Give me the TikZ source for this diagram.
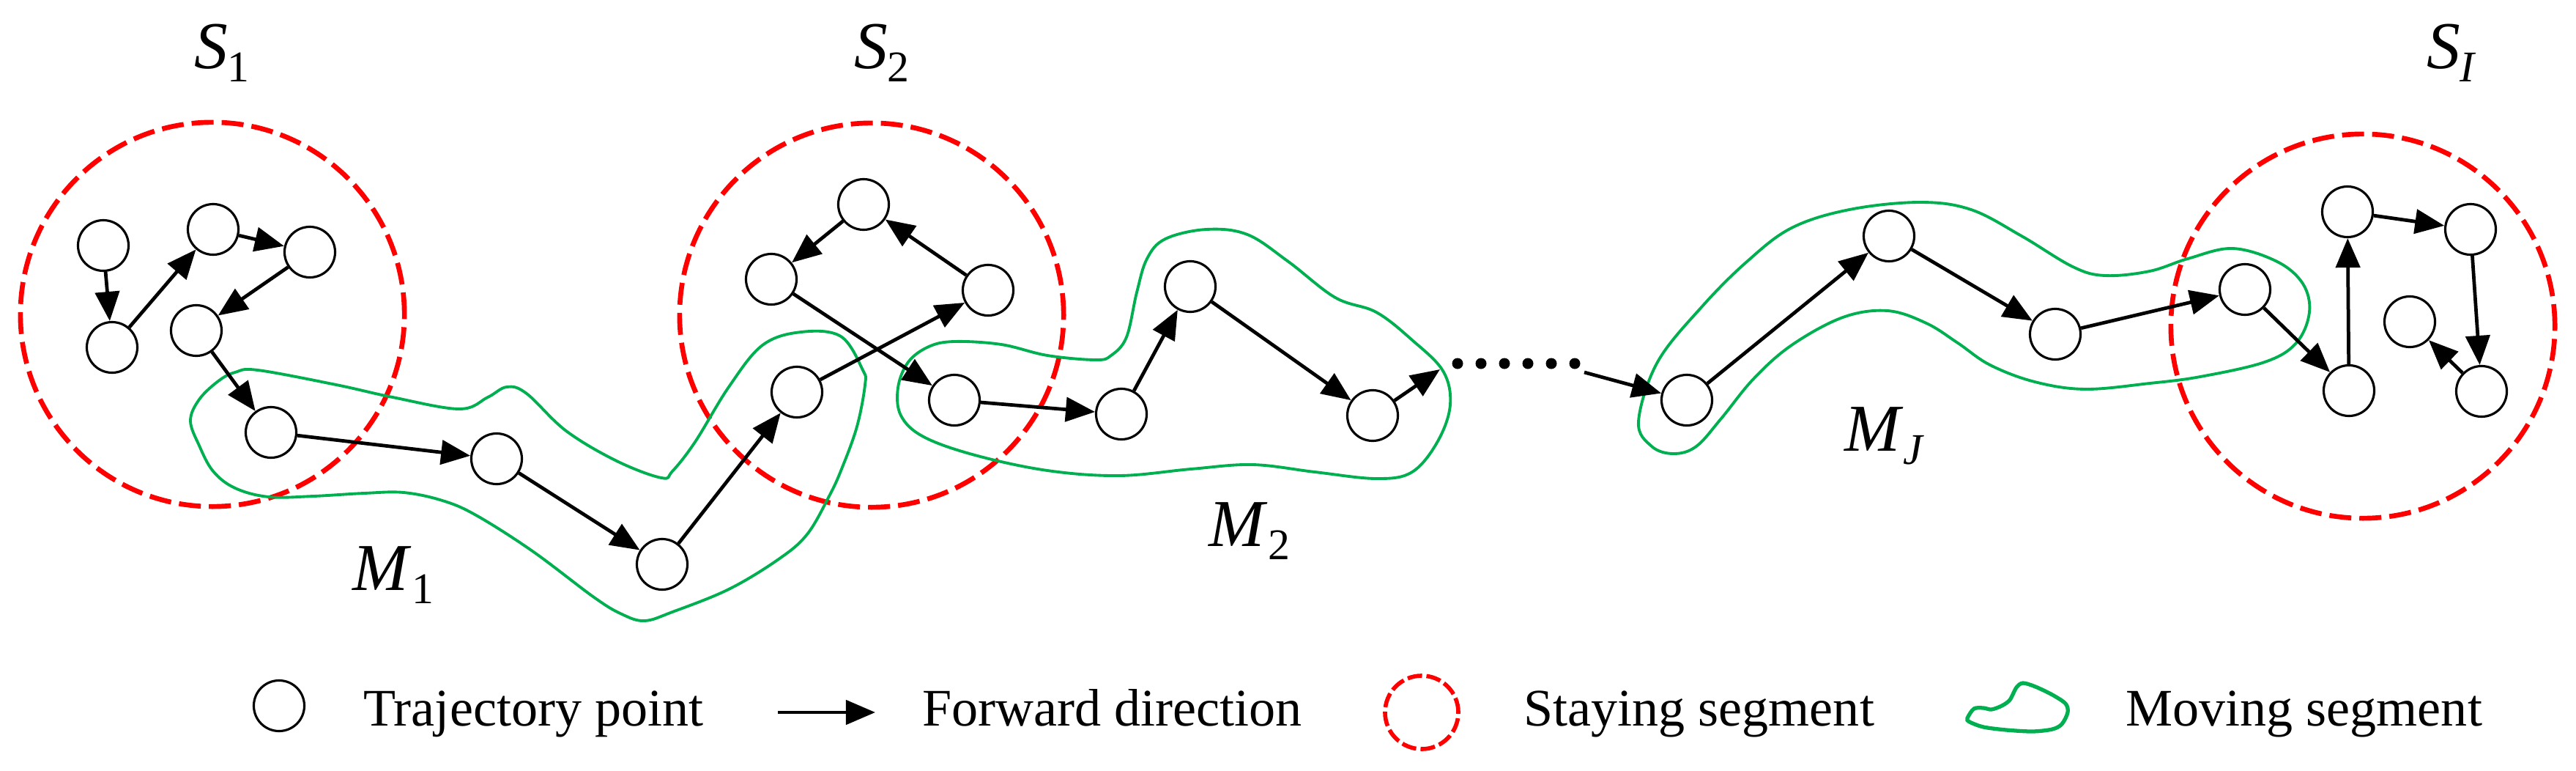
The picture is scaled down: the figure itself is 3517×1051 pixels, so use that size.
\documentclass[tikz,border=0pt]{standalone}
\usepackage{fontspec}
\setmainfont{Liberation Serif}
\usetikzlibrary{arrows.meta}
\definecolor{movegreen}{RGB}{0,176,80}
\newcommand{\seglab}[2]{\textit{#1}\raisebox{-0.18cm}{\fontsize{17}{17}\selectfont #2}}

\begin{document}
\begin{tikzpicture}[
    x=0.01cm, y=-0.01cm,
    % Styles
    tpoint/.style={draw, circle, line width=0.9pt, minimum size=0.69cm, inner sep=0pt},
    fwd/.style={-{Triangle[length=0.4cm, width=0.33cm]}, line width=1.35pt},
    staying/.style={draw=red, circle, line width=1.9pt, dash pattern=on 0.3cm off 0.11cm,
        minimum size=#1, inner sep=0pt},
    moving/.style={draw=movegreen, line width=1.1pt},
    dotmark/.style={circle, fill=black, minimum size=0.15cm, inner sep=0pt},
    seglabel/.style={font=\fontsize{26}{30}\selectfont},
    legtext/.style={anchor=base west, font=\fontsize{20.5}{24}\selectfont}
]
\useasboundingbox (0,0) rectangle (3517,1051);

% --- Staying segments ---
\node[staying=5.24cm] (stay1) at (290,429) {};
\node[staying=5.24cm] (stay2) at (1190,430) {};
\node[staying=5.24cm] (stayI) at (3226,445) {};

% --- Moving segments ---
\draw[moving] plot[smooth cycle, tension=0.6] coordinates {
    (321,508) (352,505) (459,525) (536,542) (627,558) (666,542) (692,528) (719,537)
    (773,588) (842,629) (903,652) (918,643) (949,603) (995,528) (1041,471) (1094,453)
    (1148,459) (1178,505) (1181,525) (1170,582) (1149,640) (1132,677) (1102,729)
    (1063,763) (995,804) (918,835) (880,847) (849,838) (811,815) (727,752) (650,703)
    (604,683) (551,672) (497,673) (428,677) (367,678) (321,666) (291,643) (272,608)
    (260,574) (272,545) (298,520)};
\draw[moving] plot[smooth cycle, tension=0.6] coordinates {
    (1303,466) (1367,470) (1430,485) (1496,491) (1517,485) (1538,460) (1552,399)
    (1566,353) (1591,326) (1647,313) (1703,320) (1759,357) (1823,406) (1879,426)
    (1928,464) (1970,506) (1980,552) (1963,602) (1928,644) (1879,653) (1795,644)
    (1710,634) (1626,640) (1528,649) (1430,642) (1331,621) (1261,596) (1230,567)
    (1226,529) (1240,494) (1268,473)};
\draw[moving] plot[smooth cycle, tension=0.6] coordinates {
    (2237,575) (2263,494) (2324,418) (2385,357) (2446,311) (2525,286) (2621,276)
    (2691,286) (2760,322) (2830,364) (2874,376) (2935,370) (2987,353) (3048,339)
    (3109,357) (3144,387) (3153,426) (3135,468) (3092,494) (3004,514) (2935,523)
    (2847,531) (2778,521) (2717,498) (2673,468) (2630,441) (2577,424) (2516,433)
    (2446,471) (2394,517) (2350,571) (2316,609) (2285,619) (2255,609)};

% --- Trajectory points ---
\node[tpoint] (a1) at (141,335) {};
\node[tpoint] (a2) at (153,474) {};
\node[tpoint] (a3) at (291,313) {};
\node[tpoint] (a4) at (423,344) {};
\node[tpoint] (a5) at (268,451) {};
\node[tpoint] (b1) at (370,590) {};
\node[tpoint] (b2) at (678,626) {};
\node[tpoint] (b3) at (904,770) {};
\node[tpoint] (b4) at (1088,535) {};
\node[tpoint] (c1) at (1349,396) {};
\node[tpoint] (c2) at (1179,279) {};
\node[tpoint] (c3) at (1053,381) {};
\node[tpoint] (c4) at (1303,546) {};
\node[tpoint] (d1) at (1531,565) {};
\node[tpoint] (d2) at (1625,391) {};
\node[tpoint] (d3) at (1874,567) {};
\node[tpoint] (e1) at (2303,546) {};
\node[tpoint] (e2) at (2579,322) {};
\node[tpoint] (e3) at (2806,456) {};
\node[tpoint] (e4) at (3065,395) {};
\node[tpoint] (f1) at (3207,533) {};
\node[tpoint] (f2) at (3205,289) {};
\node[tpoint] (f3) at (3373,313) {};
\node[tpoint] (f4) at (3388,534) {};
\node[tpoint] (f5) at (3290,439) {};

% --- Omitted part ---
\foreach \i in {0,...,5}
    \node[dotmark] (dot\i) at ({1990+32*\i},496) {};
\coordinate (gapin) at (1966,504);
\coordinate (gapout) at (2163,508);

% --- Forward directions ---
\draw[fwd] (a1) -- (a2);
\draw[fwd] (a2) -- (a3);
\draw[fwd] (a3) -- (a4);
\draw[fwd] (a4) -- (a5);
\draw[fwd] (a5) -- (b1);
\draw[fwd] (b1) -- (b2);
\draw[fwd] (b2) -- (b3);
\draw[fwd] (b3) -- (b4);
\draw[fwd] (b4) -- (c1);
\draw[fwd] (c1) -- (c2);
\draw[fwd] (c2) -- (c3);
\draw[fwd] (c3) -- (c4);
\draw[fwd] (c4) -- (d1);
\draw[fwd] (d1) -- (d2);
\draw[fwd] (d2) -- (d3);
\draw[fwd] (d3) -- (gapin);
\draw[fwd] (gapout) -- (e1);
\draw[fwd] (e1) -- (e2);
\draw[fwd] (e2) -- (e3);
\draw[fwd] (e3) -- (e4);
\draw[fwd] (e4) -- (f1);
\draw[fwd] (f1) -- (f2);
\draw[fwd] (f2) -- (f3);
\draw[fwd] (f3) -- (f4);
\draw[fwd] (f4) -- (f5);

% --- Segment labels ---
\node[seglabel] (labS1) at (303,72) {\seglab{S}{1}};
\node[seglabel] (labS2) at (1204,72) {\seglab{S}{2}};
\node[seglabel] (labSI) at (3347,72) {\seglab{S}{\textit{I}}};
\node[seglabel] (labM1) at (537,785) {\seglab{M}{1}};
\node[seglabel] (labM2) at (1706,725) {\seglab{M}{2}};
\node[seglabel] (labMJ) at (2573,595) {\seglab{M}{\textit{J}}};

% --- Legend ---
\node[tpoint] (legpt) at (381,963) {};
\node[legtext] (legptT) at (484,990) {Trajectory point};
\coordinate (legA) at (1062,972);
\coordinate (legB) at (1195,972);
\draw[fwd] (legA) -- (legB);
\node[legtext] (legfwT) at (1247,990) {Forward direction};
\node[staying=1.0cm, line width=1.6pt, dash pattern=on 0.2cm off 0.06cm] (legstay) at (1941,972) {};
\node[legtext] (legstT) at (2068,990) {Staying segment};
\draw[moving, line width=1.5pt] plot[smooth cycle, tension=0.5] coordinates {
    (2686,980) (2695,967) (2708,966) (2719,968) (2733,963) (2744,955) (2753,938)
    (2762,932) (2779,937) (2802,948) (2820,960) (2823,972) (2815,988) (2802,995)
    (2775,998) (2739,996) (2708,992) (2689,985)};
\node[legtext] (legmvT) at (2890,990) {Moving segment};

\end{tikzpicture}
\end{document}
